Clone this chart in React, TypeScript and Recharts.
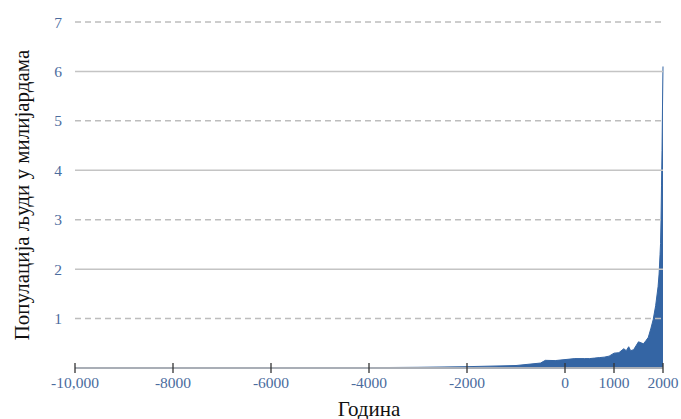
import { AreaChart, Area, XAxis, YAxis, ReferenceLine } from "recharts";

const years = [
  -10000, -8000, -6000, -5000, -4000, -3000, -2000, -1000, -500, -400, -200, 0, 200, 400, 500,
  600, 700, 800, 900, 1000, 1100, 1200, 1250, 1300, 1340, 1400, 1500, 1600, 1650, 1700, 1750,
  1800, 1850, 1900, 1920, 1940, 1950, 1960, 1970, 1980, 1990, 2000,
];
const population = [
  0.004, 0.005, 0.005, 0.006, 0.007, 0.014, 0.027, 0.05, 0.1, 0.155, 0.15, 0.17, 0.19, 0.19, 0.19,
  0.2, 0.21, 0.22, 0.24, 0.3, 0.31, 0.39, 0.35, 0.43, 0.35, 0.37, 0.53, 0.49, 0.55, 0.62, 0.79,
  0.98, 1.26, 1.65, 1.9, 2.3, 2.52, 3.0, 3.7, 4.4, 5.3, 6.1,
];
const xTicks = [-10000, -8000, -6000, -4000, -2000, 0, 1000, 2000];
const yTicks = [1, 2, 3, 4, 5, 6, 7];

const data = years.map((year, i) => ({ year, pop: population[i] }));

const blue = "#3465a4";
const tickBlue = "#4b6c9e";
const font = "'Liberation Serif', 'DejaVu Serif', serif";

const fmtYear = (v: number) => (v === -10000 ? "-10,000" : String(v));

function XTick({ x, y, payload }: any) {
  return (
    <g>
      <line x1={x} x2={x} y1={y - 5} y2={y + 5} stroke="#333" strokeWidth={1.3} />
      <text x={x} y={y + 20} textAnchor="middle" fill={tickBlue} fontSize={15.5} fontFamily={font}>
        {fmtYear(payload.value)}
      </text>
    </g>
  );
}

function YLabel({ viewBox }: any) {
  const cx = 22;
  const cy = viewBox ? viewBox.y + viewBox.height / 2 : 195;
  return (
    <text
      x={cx}
      y={cy}
      transform={`rotate(-90 ${cx} ${cy})`}
      textAnchor="middle"
      dominantBaseline="central"
      fontSize={21}
      fontFamily={font}
      fill="#111"
    >
      Популација људи у милијардама
    </text>
  );
}

function XLabel({ viewBox }: any) {
  const cx = viewBox ? viewBox.x + viewBox.width / 2 : 369;
  return (
    <text x={cx} y={416} textAnchor="middle" fontSize={21} fontFamily={font} fill="#111">
      Година
    </text>
  );
}

export default function App() {
  return (
    <div style={{ position: "absolute", left: 0, top: 0, background: "#fff" }}>
      <AreaChart width={681} height={419} data={data} margin={{ top: 22, right: 18, left: 0, bottom: 0 }}>
        {yTicks.map((v) => (
          <ReferenceLine
            key={v}
            y={v}
            stroke={v % 2 === 0 ? "#c4c4c4" : "#bdbdbd"}
            strokeWidth={1.5}
            strokeDasharray={v % 2 === 0 ? undefined : "6 4"}
          />
        ))}
        <XAxis
          dataKey="year"
          type="number"
          domain={[-10000, 2000]}
          ticks={xTicks}
          height={51}
          tickSize={0}
          tickMargin={0}
          tickLine={false}
          tick={<XTick />}
          axisLine={{ stroke: "#a9aeb6", strokeWidth: 2 }}
          label={<XLabel />}
          interval={0}
        />
        <YAxis
          type="number"
          domain={[0, 7]}
          ticks={yTicks}
          width={75}
          axisLine={false}
          tickLine={false}
          tickSize={0}
          tickMargin={13}
          tick={{ fill: tickBlue, fontSize: 15.5, fontFamily: font }}
          label={<YLabel />}
          interval={0}
        />
        <Area
          type="linear"
          dataKey="pop"
          stroke={blue}
          strokeWidth={1}
          fill={blue}
          fillOpacity={1}
          isAnimationActive={false}
          dot={false}
          activeDot={false}
        />
      </AreaChart>
    </div>
  );
}
